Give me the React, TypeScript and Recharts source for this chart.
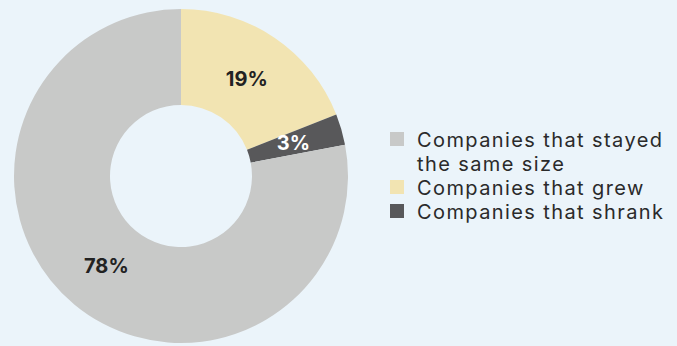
import React from 'react';
import { PieChart, Pie, Cell, Legend } from 'recharts';

const categories = ['Companies that stayed the same size', 'Companies that grew', 'Companies that shrank'];
const values = [78, 19, 3];
const labels = ['78%', '19%', '3%'];
const colors = ['#c8c9c8', '#f2e4b2', '#58585a'];
const labelColors = ['#222222', '#222222', '#ffffff'];

// drawing order: grew, shrank, stayed (clockwise from top)
const order = [1, 2, 0];
const data = order.map((i) => ({ name: categories[i], value: values[i], label: labels[i], color: colors[i], labelColor: labelColors[i] }));

const FONT = 'Inter, "Noto Sans", sans-serif';
const RAD = Math.PI / 180;

const renderLabel = (props: any) => {
  const { cx, cy, midAngle, innerRadius, outerRadius, index } = props;
  const r = innerRadius + (outerRadius - innerRadius) * 0.48;
  const x = cx + r * Math.cos(-midAngle * RAD);
  const y = cy + r * Math.sin(-midAngle * RAD);
  const d = data[index];
  return (
    <text x={x} y={y} fill={d.labelColor} textAnchor="middle" dominantBaseline="central"
      style={{ fontFamily: FONT, fontSize: 20, fontWeight: 700 }}>
      {d.label}
    </text>
  );
};

const renderLegend = () => (
  <div style={{ fontFamily: FONT, fontSize: 20, letterSpacing: '1.4px', color: '#2a2a2a', lineHeight: '24px', width: 280 }}>
    {[0, 1, 2].map((i) => (
      <div key={i} style={{ display: 'flex', alignItems: 'flex-start' }}>
        <div style={{ width: 14, height: 14, background: colors[i], marginTop: 4, marginRight: 13, flexShrink: 0 }} />
        <div style={{ width: 255 }}>{categories[i]}</div>
      </div>
    ))}
  </div>
);

export default function App() {
  return (
    <div style={{ position: 'absolute', left: 0, top: 0, width: 677, height: 346, background: '#ebf4fa' }}>
      <PieChart width={677} height={346} margin={{ top: 0, right: 0, bottom: 0, left: 0 }}>
        <Pie
          data={data}
          dataKey="value"
          nameKey="name"
          cx={181}
          cy={176}
          innerRadius={71}
          outerRadius={167}
          startAngle={90}
          endAngle={-270}
          stroke="none"
          label={renderLabel}
          labelLine={false}
          isAnimationActive={false}
        >
          {data.map((d, i) => (
            <Cell key={i} fill={d.color} />
          ))}
        </Pie>
        <Legend
          layout="vertical"
          align="right"
          verticalAlign="top"
          content={renderLegend}
          wrapperStyle={{ left: 390, top: 128, width: 287 }}
        />
      </PieChart>
    </div>
  );
}
